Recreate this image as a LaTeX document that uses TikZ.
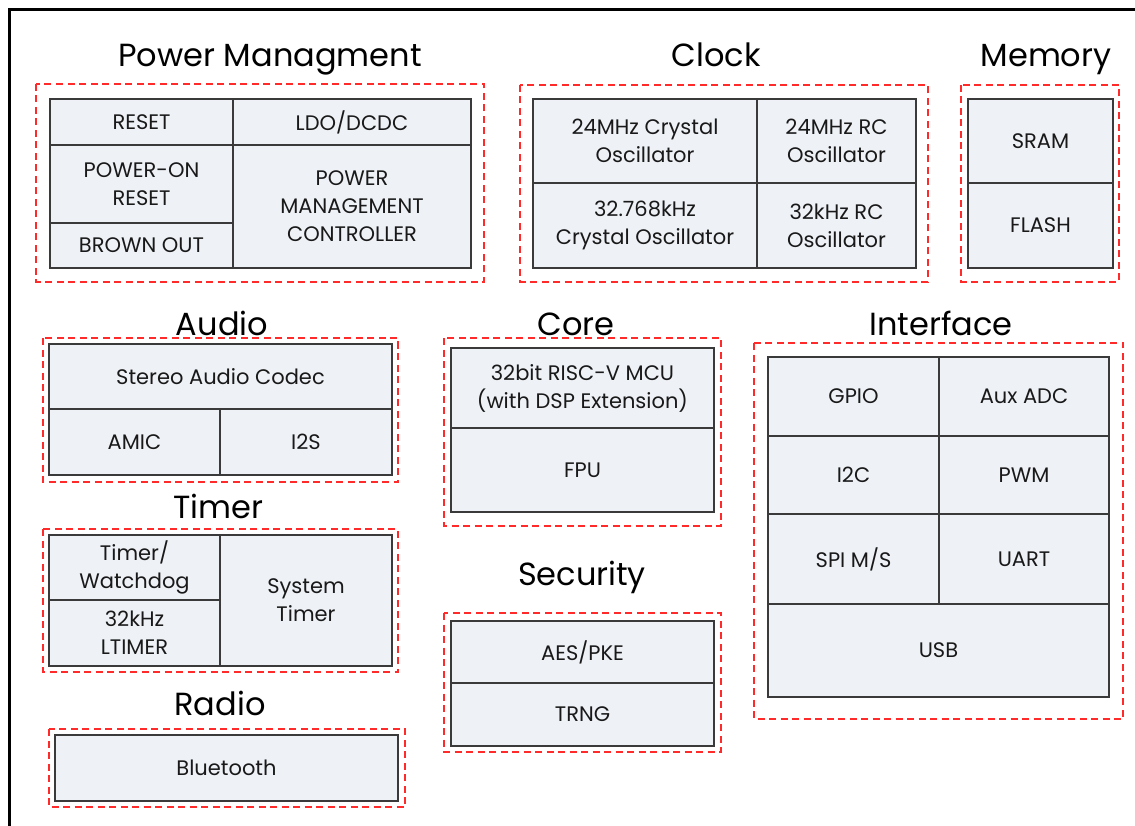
\documentclass[tikz,border=0pt]{standalone}
\usepackage{fontspec}
\setmainfont{Poppins}
\definecolor{cellfill}{HTML}{EEF1F6}
\definecolor{boxgray}{HTML}{3A3A3A}
\definecolor{grpred}{HTML}{FF2A2A}
\newcommand{\cellbox}[6]{%
  \node[cellst, minimum width={#4-#2}, minimum height={#5-#3}, anchor=north west] (#1) at (#2,#3) {#6};}
\begin{document}
\begin{tikzpicture}[x=1pt,y=-1pt,
  cellst/.style={draw=boxgray, fill=cellfill, line width=1.2pt, inner sep=0pt, outer sep=0pt,
    align=center, font=\fontsize{21}{28}\selectfont, text=black!90},
  grp/.style={draw=grpred, line width=1.2pt, dash pattern=on 7pt off 4.5pt},
  ttl/.style={anchor=base, inner sep=0pt, font=\fontsize{32}{38}\selectfont, text=black}]
\useasboundingbox (0,0) rectangle (1135,826);
\draw[line width=3pt] (9.5,830) -- (9.5,10) -- (1140,10);

% Power Managment
\draw[grp] (36,84) rectangle (484,282);
\node[ttl] (tpow) at (270,67) {Power Managment};
\cellbox{reset}{50}{99}{233}{145}{RESET}
\cellbox{por}{50}{145}{233}{223}{POWER-ON\\RESET}
\cellbox{bo}{50}{223}{233}{268}{BROWN OUT}
\cellbox{ldo}{233}{99}{471}{145}{LDO/DCDC}
\cellbox{pmc}{233}{145}{471}{268}{POWER\\MANAGEMENT\\CONTROLLER}

% Clock
\draw[grp] (520,85) rectangle (928,282);
\node[ttl] (tclk) at (716,67) {Clock};
\cellbox{xo24}{533}{99}{757}{183}{24MHz Crystal\\Oscillator}
\cellbox{rc24}{757}{99}{916}{183}{24MHz RC\\Oscillator}
\cellbox{xo32}{533}{183}{757}{268}{32.768kHz\\Crystal Oscillator}
\cellbox{rc32}{757}{183}{916}{268}{32kHz RC\\Oscillator}

% Memory
\draw[grp] (961,85) rectangle (1119,282);
\node[ttl] (tmem) at (1046,67) {Memory};
\cellbox{sram}{968}{99}{1113}{183}{SRAM}
\cellbox{flash}{968}{183}{1113}{268}{FLASH}

% Audio
\draw[grp] (43,338) rectangle (398,482);
\node[ttl] (taud) at (222,335) {Audio};
\cellbox{codec}{49}{344}{392}{409}{Stereo Audio Codec}
\cellbox{amic}{49}{409}{220}{475}{AMIC}
\cellbox{i2s}{220}{409}{392}{475}{I2S}

% Timer
\draw[grp] (43,529) rectangle (398,672);
\node[ttl] (ttim) at (218,518) {Timer};
\cellbox{wdt}{49}{535}{220}{600}{Timer/\\Watchdog}
\cellbox{ltim}{49}{600}{220}{666}{32kHz\\LTIMER}
\cellbox{systim}{220}{535}{392}{666}{System\\Timer}

% Radio
\draw[grp] (49,729) rectangle (405,807);
\node[ttl] (trad) at (220,715) {Radio};
\cellbox{bt}{55}{735}{398}{801}{Bluetooth}

% Core
\draw[grp] (444,338) rectangle (721,526);
\node[ttl] (tcore) at (576,335) {Core};
\cellbox{mcu}{451}{348}{714}{428}{32bit RISC-V MCU\\(with DSP Extension)}
\cellbox{fpu}{451}{428}{714}{512}{FPU}

% Security
\draw[grp] (444,613) rectangle (721,752);
\node[ttl] (tsec) at (582,585) {Security};
\cellbox{aes}{451}{621}{714}{683}{AES/PKE}
\cellbox{trng}{451}{683}{714}{746}{TRNG}

% Interface
\draw[grp] (754,343) rectangle (1123,719);
\node[ttl] (tif) at (941,335) {Interface};
\cellbox{gpio}{768}{357}{939}{436}{GPIO}
\cellbox{adc}{939}{357}{1109}{436}{Aux ADC}
\cellbox{i2c}{768}{436}{939}{514}{I2C}
\cellbox{pwm}{939}{436}{1109}{514}{PWM}
\cellbox{spi}{768}{514}{939}{604}{SPI M/S}
\cellbox{uart}{939}{514}{1109}{604}{UART}
\cellbox{usb}{768}{604}{1109}{697}{USB}
\end{tikzpicture}
\end{document}
